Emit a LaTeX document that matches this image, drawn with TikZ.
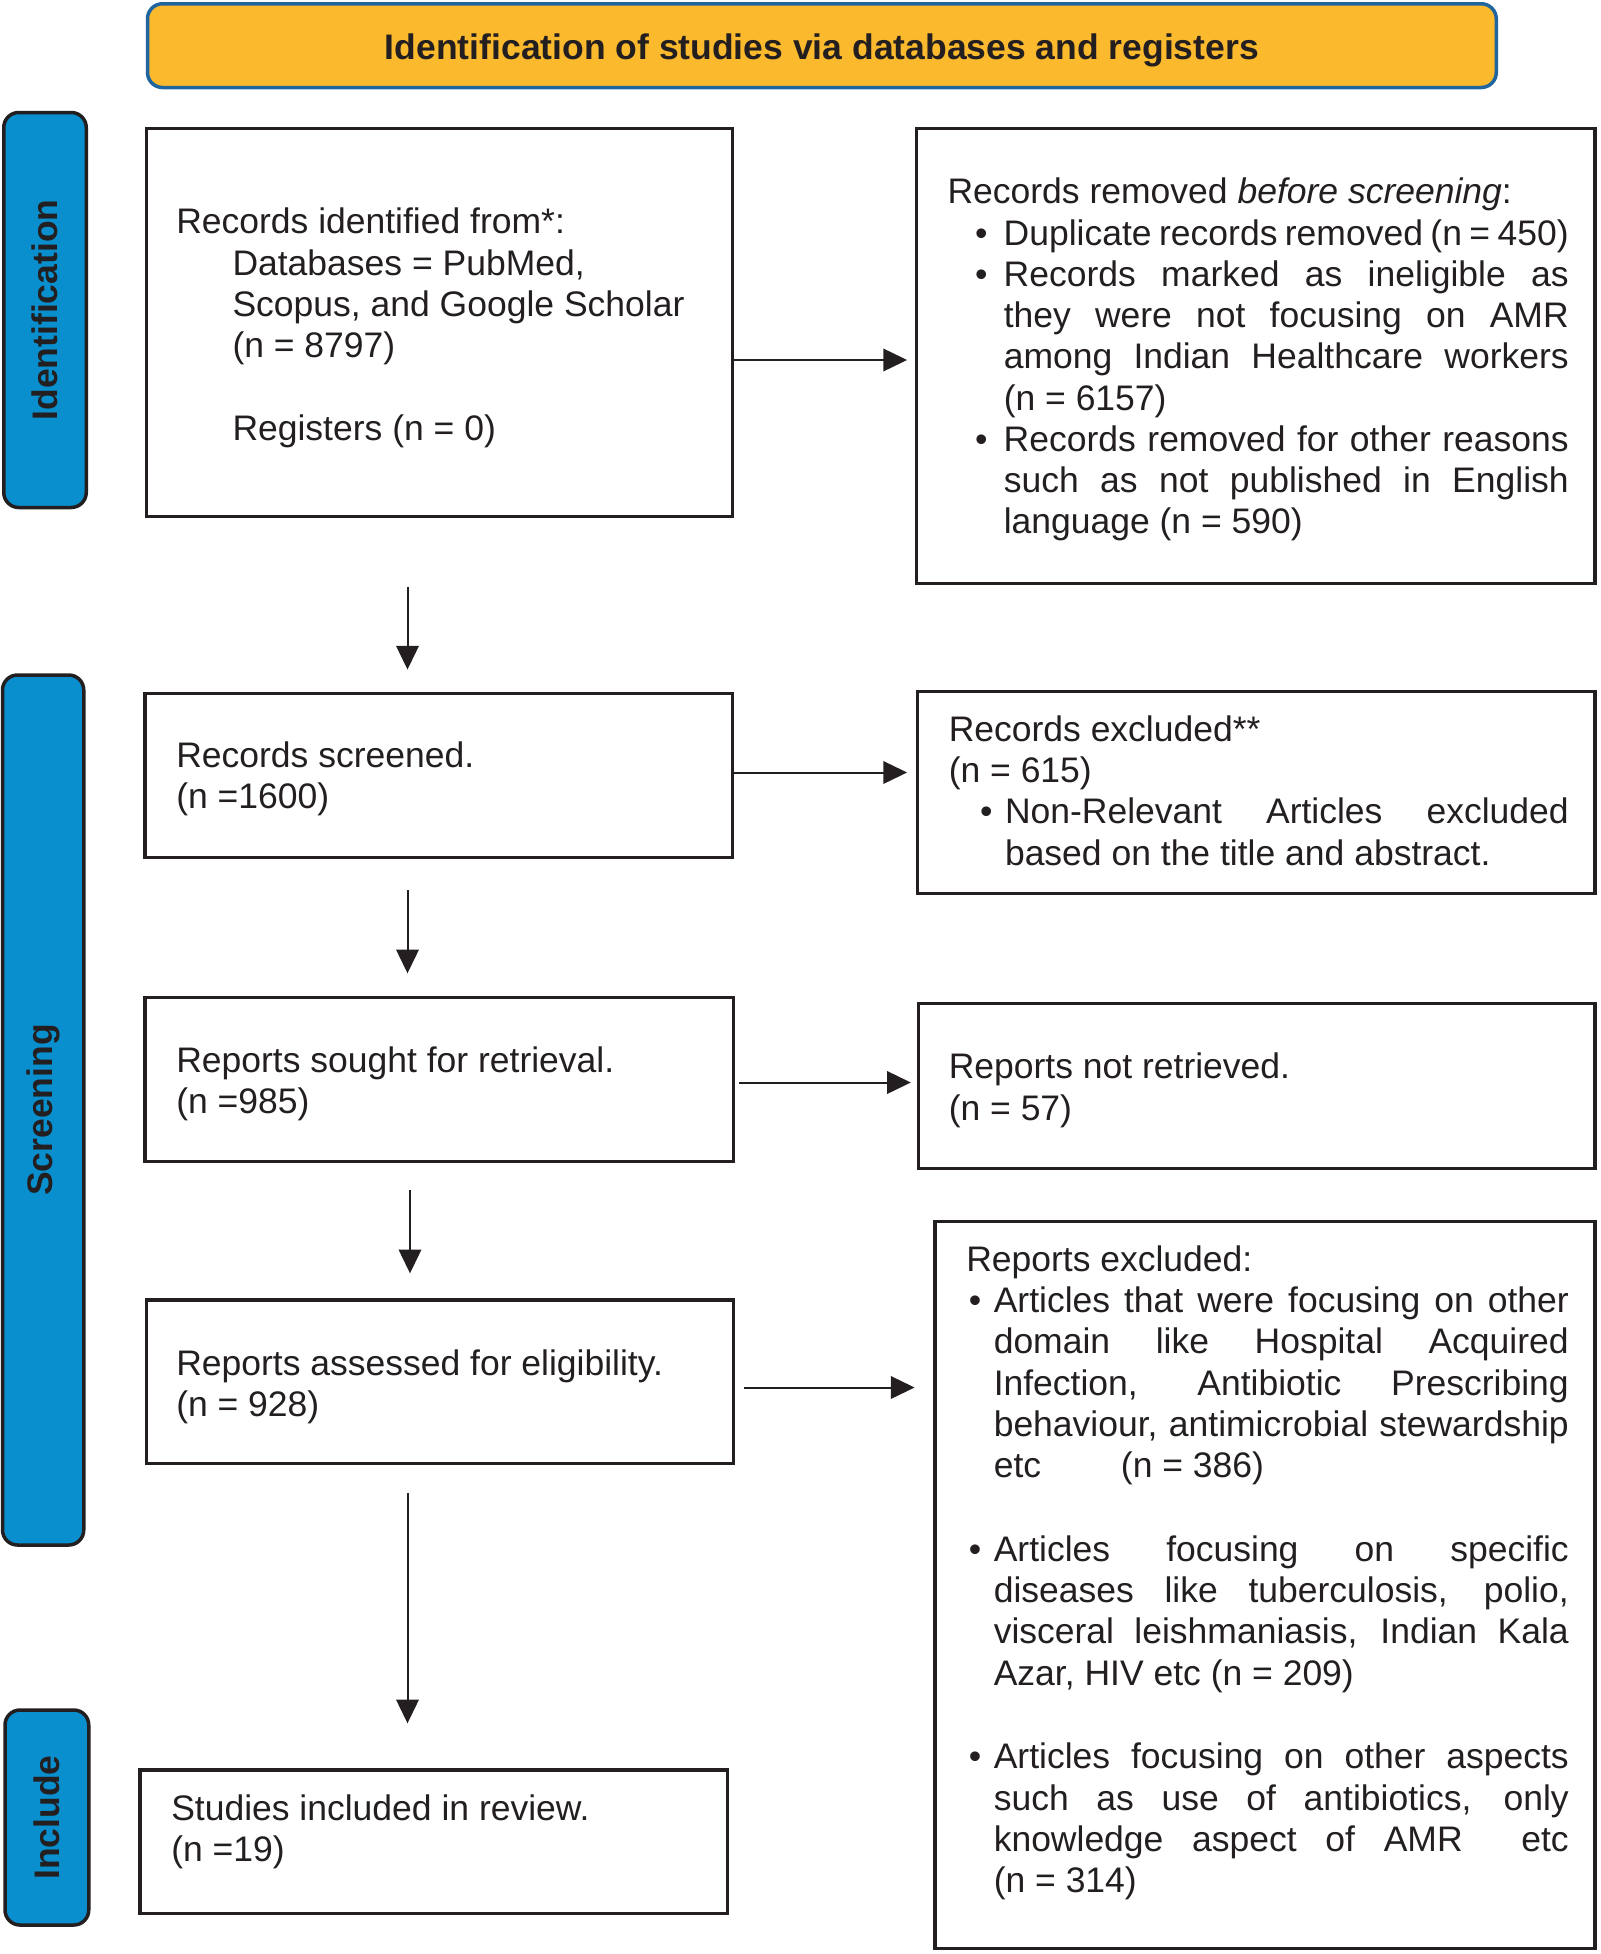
\documentclass[tikz,border=0pt]{standalone}
\usepackage{fontspec}
\setmainfont{Liberation Sans}
\usetikzlibrary{arrows.meta,fit}
\definecolor{bannerfill}{HTML}{FBB92D}
\definecolor{bannerline}{HTML}{1F65A0}
\definecolor{barfill}{HTML}{0A8FCE}
\definecolor{barline}{HTML}{231F20}
\definecolor{ink}{HTML}{231F20}
\newcommand{\bitem}[3]{\par\noindent\hangindent=#1\hangafter=1\makebox[#1][l]{\hspace{#2}\textbullet}#3\par}
\tolerance=10000
\hbadness=10000
\hyphenpenalty=10000
\exhyphenpenalty=10000
\begin{document}
\begin{tikzpicture}[x=0.5pt,y=-0.5pt,
  box/.style={draw=ink, line width=1.35pt, inner sep=0pt},
  txt/.style={inner sep=0pt, outer sep=0pt, text=ink, anchor=north west, font=\fontsize{14.2}{16.5}\selectfont},
  bar/.style={draw=barline, fill=barfill, line width=1.4pt, rounded corners=6pt, inner sep=0pt},
  bartxt/.style={rotate=90, text=ink, font=\bfseries\fontsize{14.2}{16.5}\selectfont, inner sep=0pt},
  arr/.style={draw=ink, line width=0.8pt, -{Triangle[length=9.5pt,width=9pt]}}]
\useasboundingbox (0,0) rectangle (1280,1563.2);

% banner
\node[draw=bannerline, fill=bannerfill, line width=1.4pt, rounded corners=6pt, inner sep=0pt, fit={(118,3) (1197,70)}] (banner) {};
\node[font=\bfseries\fontsize{14.2}{16.5}\selectfont, text=ink, inner sep=0pt, yshift=-1.8pt] (title) at (banner.center) {Identification of studies via databases and registers};

% side bars
\node[bar, fit={(3,90) (69,406)}] (barid) {};
\node[bartxt] (baridtxt) at (barid.center) {Identification};
\node[bar, fit={(2,540) (67,1236)}] (barsc) {};
\node[bartxt] (barsctxt) at (barsc.center) {Screening};
\node[bar, fit={(4,1368) (71,1540)}] (barin) {};
\node[bartxt] (barintxt) at (barin.center) {Include};

% boxes
\node[box, fit={(117,103) (586,413)}] (ident) {};
\node[box, fit={(733,103) (1276,467)}] (removed) {};
\node[box, fit={(116,555) (586,686)}] (screened) {};
\node[box, fit={(734,553) (1276,715)}] (excluded) {};
\node[box, fit={(116,798) (587,929)}] (sought) {};
\node[box, fit={(735,803) (1276,935)}] (notret) {};
\node[box, fit={(117,1040) (587,1171)}] (assessed) {};
\node[box, fit={(748,977) (1276,1559)}] (repexcl) {};
\node[box, fit={(112,1416) (582,1531)}] (included) {};

% texts
\node[txt, align=left] (identtxt) at (141,164) {\strut Records identified from*:\\
\hspace*{22.5pt}Databases = PubMed,\\
\hspace*{22.5pt}Scopus, and Google Scholar\\
\hspace*{22.5pt}(n = 8797)\\[16.5pt]
\hspace*{22.5pt}Registers (n = 0)};

\node[txt, text width=248.5pt, align=justify] (remtxt) at (758,140) {\strut Records removed \textit{before screening}:\par
\bitem{22.5pt}{11pt}{Duplicate records removed (n = 450)}
\bitem{22.5pt}{11pt}{Records marked as ineligible as \linebreak they were not focusing on AMR \linebreak among Indian Healthcare workers \linebreak (n = 6157)}
\bitem{22.5pt}{11pt}{Records removed for other reasons \linebreak such as not published in English \linebreak language (n = 590)}};

\node[txt, align=left] (scrtxt) at (141,591) {\strut Records screened.\\(n =1600)};

\node[txt, text width=248pt, align=justify] (exctxt) at (759,570) {\strut Records excluded**\par\noindent(n = 615)\par
\bitem{22.5pt}{12.5pt}{Non-Relevant Articles excluded \linebreak based on the title and abstract.}};

\node[txt, align=left] (soutxt) at (141,835) {\strut Reports sought for retrieval.\\(n =985)};

\node[txt, align=left] (nrtxt) at (759,840) {\strut Reports not retrieved.\\(n = 57)};

\node[txt, align=left] (asstxt) at (141,1077) {\strut Reports assessed for eligibility.\\(n = 928)};

\node[txt, text width=241pt, align=justify] (reptxt) at (773,994) {\strut Reports excluded:\par
\bitem{11pt}{1pt}{Articles that were focusing on other \linebreak domain like Hospital Acquired \linebreak Infection, Antibiotic Prescribing \linebreak behaviour, antimicrobial stewardship \linebreak etc\hspace{28pt} (n = 386)}
\vskip17pt
\bitem{11pt}{1pt}{Articles focusing on specific \linebreak diseases like tuberculosis, polio, \linebreak visceral leishmaniasis, Indian Kala \linebreak Azar, HIV etc (n = 209)}
\vskip17pt
\bitem{11pt}{1pt}{Articles focusing on other aspects \linebreak such as use of antibiotics, only \linebreak knowledge aspect of AMR\hspace{12pt} etc \linebreak (n = 314)}};

\node[txt, align=left] (inctxt) at (137,1433) {\strut Studies included in review.\\(n =19)};

% connector guides
\coordinate (colA) at (326,0);
\coordinate (colB) at (328,0);
\coordinate (rowA) at (0,288);
\coordinate (rowB) at (0,618);
\coordinate (rowC) at (0,866);
\coordinate (rowD) at (0,1110);

% vertical arrows
\draw[arr, shorten <=27.5pt, shorten >=9pt] (ident.south -| colA) -- (screened.north -| colA);
\draw[arr, shorten <=12.5pt, shorten >=9pt] (screened.south -| colA) -- (sought.north -| colA);
\draw[arr, shorten <=11pt, shorten >=10pt] (sought.south -| colB) -- (assessed.north -| colB);
\draw[arr, shorten <=11pt, shorten >=18pt] (assessed.south -| colA) -- (included.north -| colA);

% horizontal arrows
\draw[arr, shorten >=3pt] (ident.east |- rowA) -- (removed.west |- rowA);
\draw[arr, shorten >=3.5pt] (screened.east |- rowB) -- (excluded.west |- rowB);
\draw[arr, shorten <=1.5pt, shorten >=2.5pt] (sought.east |- rowC) -- (notret.west |- rowC);
\draw[arr, shorten <=3.5pt, shorten >=7.5pt] (assessed.east |- rowD) -- (repexcl.west |- rowD);
\end{tikzpicture}
\end{document}
